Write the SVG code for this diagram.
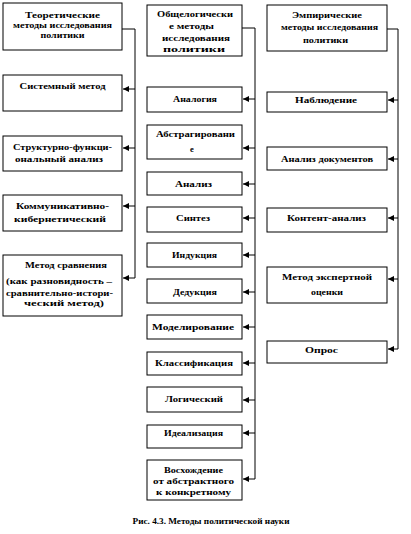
<svg xmlns="http://www.w3.org/2000/svg" width="411" height="534" viewBox="0 0 411 534">
<style>
.b{fill:#fff;stroke:#000;stroke-width:1}
text{font-family:"Liberation Serif","Times New Roman",serif;font-weight:bold;font-size:8.5px;fill:#000;text-anchor:middle}
.c path{fill:none;stroke:#000;stroke-width:1}
</style>
<defs>
<marker id="ar" viewBox="0 0 6 6" refX="6" refY="3" markerWidth="6" markerHeight="6" markerUnits="userSpaceOnUse" orient="auto">
<path d="M0,0 L6,3 L0,6 z" fill="#000"/>
</marker>
</defs>
<rect width="411" height="534" fill="#fff"/>
<g class="c">
<path d="M122,29 H135 V278"/>
<path d="M135,89 H123" marker-end="url(#ar)"/>
<path d="M135,148 H123" marker-end="url(#ar)"/>
<path d="M135,206 H123" marker-end="url(#ar)"/>
<path d="M135,278 H123" marker-end="url(#ar)"/>
<path d="M242,28 H255 V479"/>
<path d="M255,99 H243" marker-end="url(#ar)"/>
<path d="M255,148 H243" marker-end="url(#ar)"/>
<path d="M255,184 H243" marker-end="url(#ar)"/>
<path d="M255,218 H243" marker-end="url(#ar)"/>
<path d="M255,255 H243" marker-end="url(#ar)"/>
<path d="M255,292 H243" marker-end="url(#ar)"/>
<path d="M255,327 H243" marker-end="url(#ar)"/>
<path d="M255,363 H243" marker-end="url(#ar)"/>
<path d="M255,400 H243" marker-end="url(#ar)"/>
<path d="M255,433 H243" marker-end="url(#ar)"/>
<path d="M255,479 H243" marker-end="url(#ar)"/>
<path d="M387,29 H398 V349"/>
<path d="M398,100 H388" marker-end="url(#ar)"/>
<path d="M398,159 H388" marker-end="url(#ar)"/>
<path d="M398,218 H388" marker-end="url(#ar)"/>
<path d="M398,279 H388" marker-end="url(#ar)"/>
<path d="M398,349 H388" marker-end="url(#ar)"/>
</g>
<g id="theor"><rect class="b" x="3" y="3" width="119" height="47"/>
<text x="62.5" y="18" textLength="75" lengthAdjust="spacingAndGlyphs">Теоретические</text>
<text x="62.5" y="28" textLength="99" lengthAdjust="spacingAndGlyphs" style="font-size:7.5px">методы исследования</text>
<text x="62.5" y="38" textLength="44" lengthAdjust="spacingAndGlyphs" style="font-size:7.5px">политики</text></g>
<g id="sys"><rect class="b" x="3" y="75" width="119" height="36"/>
<text x="62.5" y="89" textLength="86" lengthAdjust="spacingAndGlyphs">Системный метод</text></g>
<g id="struct"><rect class="b" x="3" y="136" width="119" height="35"/>
<text x="62.5" y="150" textLength="99" lengthAdjust="spacingAndGlyphs">Структурно-функци-</text>
<text x="59" y="162" textLength="88" lengthAdjust="spacingAndGlyphs">ональный анализ</text></g>
<g id="komm"><rect class="b" x="3" y="195" width="119" height="36"/>
<text x="62.5" y="209" textLength="93" lengthAdjust="spacingAndGlyphs">Коммуникативно-</text>
<text x="60" y="222" textLength="92" lengthAdjust="spacingAndGlyphs">кибернетический</text></g>
<g id="sravn"><rect class="b" x="3" y="255" width="119" height="61"/>
<text x="66" y="268" textLength="82" lengthAdjust="spacingAndGlyphs">Метод сравнения</text>
<text x="59" y="284" textLength="106" lengthAdjust="spacingAndGlyphs">(как разновидность –</text>
<text x="59.5" y="296" textLength="107" lengthAdjust="spacingAndGlyphs">сравнительно-истори-</text>
<text x="64" y="306" textLength="80" lengthAdjust="spacingAndGlyphs">ческий метод)</text></g>
<g id="obsh"><rect class="b" x="147" y="5" width="95" height="51"/>
<text x="195" y="17" textLength="76" lengthAdjust="spacingAndGlyphs">Общелогически</text>
<text x="191.5" y="29" textLength="45" lengthAdjust="spacingAndGlyphs">е методы</text>
<text x="196" y="41" textLength="68" lengthAdjust="spacingAndGlyphs" style="font-size:7.5px">исследования</text>
<text x="194" y="52" textLength="62" lengthAdjust="spacingAndGlyphs" style="font-size:7.5px">политики</text></g>
<g id="analog"><rect class="b" x="147" y="87" width="95" height="25"/>
<text x="195" y="102" textLength="44" lengthAdjust="spacingAndGlyphs">Аналогия</text></g>
<g id="abstr"><rect class="b" x="147" y="125" width="95" height="34"/>
<text x="195.5" y="137" textLength="79" lengthAdjust="spacingAndGlyphs">Абстрагировани</text>
<text x="192" y="152">е</text></g>
<g id="anal"><rect class="b" x="147" y="172" width="95" height="23"/>
<text x="193.5" y="187" textLength="37" lengthAdjust="spacingAndGlyphs">Анализ</text></g>
<g id="sint"><rect class="b" x="147" y="207" width="95" height="25"/>
<text x="193" y="221" textLength="34" lengthAdjust="spacingAndGlyphs">Синтез</text></g>
<g id="ind"><rect class="b" x="147" y="243" width="95" height="24"/>
<text x="194.5" y="258" textLength="45" lengthAdjust="spacingAndGlyphs">Индукция</text></g>
<g id="ded"><rect class="b" x="147" y="279" width="95" height="24"/>
<text x="195" y="295" textLength="44" lengthAdjust="spacingAndGlyphs">Дедукция</text></g>
<g id="model"><rect class="b" x="147" y="315" width="95" height="24"/>
<text x="193" y="330" textLength="82" lengthAdjust="spacingAndGlyphs">Моделирование</text></g>
<g id="klass"><rect class="b" x="147" y="352" width="95" height="23"/>
<text x="194" y="366" textLength="78" lengthAdjust="spacingAndGlyphs">Классификация</text></g>
<g id="logic"><rect class="b" x="147" y="387" width="95" height="25"/>
<text x="194" y="402" textLength="58" lengthAdjust="spacingAndGlyphs">Логический</text></g>
<g id="ideal"><rect class="b" x="147" y="425" width="95" height="23"/>
<text x="193.5" y="436" textLength="59" lengthAdjust="spacingAndGlyphs">Идеализация</text></g>
<g id="vosh"><rect class="b" x="147" y="460" width="95" height="40"/>
<text x="193.5" y="473" textLength="59" lengthAdjust="spacingAndGlyphs">Восхождение</text>
<text x="193.5" y="484" textLength="81" lengthAdjust="spacingAndGlyphs">от абстрактного</text>
<text x="193.5" y="495" textLength="75" lengthAdjust="spacingAndGlyphs">к конкретному</text></g>
<g id="emp"><rect class="b" x="267" y="5" width="120" height="46"/>
<text x="327" y="18" textLength="70" lengthAdjust="spacingAndGlyphs">Эмпирические</text>
<text x="329.5" y="30" textLength="97" lengthAdjust="spacingAndGlyphs" style="font-size:7.5px">методы исследования</text>
<text x="325.5" y="43" textLength="45" lengthAdjust="spacingAndGlyphs" style="font-size:7.5px">политики</text></g>
<g id="nabl"><rect class="b" x="267" y="92" width="120" height="20"/>
<text x="326" y="103" textLength="62" lengthAdjust="spacingAndGlyphs">Наблюдение</text></g>
<g id="anadoc"><rect class="b" x="267" y="147" width="120" height="23"/>
<text x="327" y="162" textLength="92" lengthAdjust="spacingAndGlyphs">Анализ документов</text></g>
<g id="kont"><rect class="b" x="267" y="208" width="120" height="24"/>
<text x="326.5" y="221" textLength="79" lengthAdjust="spacingAndGlyphs">Контент-анализ</text></g>
<g id="expert"><rect class="b" x="267" y="267" width="120" height="36"/>
<text x="327" y="280" textLength="90" lengthAdjust="spacingAndGlyphs">Метод экспертной</text>
<text x="327" y="295" textLength="32" lengthAdjust="spacingAndGlyphs">оценки</text></g>
<g id="opros"><rect class="b" x="267" y="341" width="120" height="22"/>
<text x="321.5" y="353" textLength="33" lengthAdjust="spacingAndGlyphs">Опрос</text></g>
<text x="211" y="524" textLength="157" lengthAdjust="spacingAndGlyphs">Рис. 4.3. Методы политической науки</text>
</svg>
